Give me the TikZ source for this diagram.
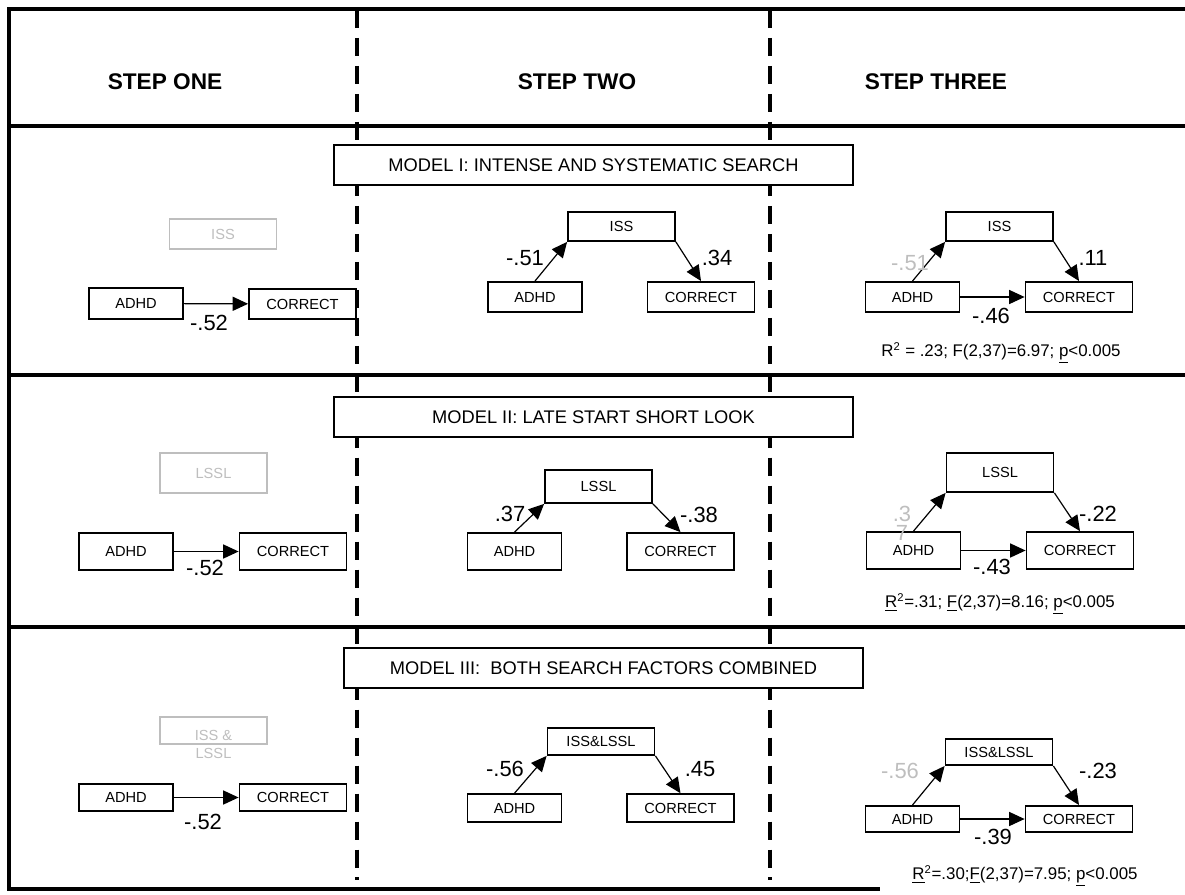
\documentclass[tikz,border=0pt]{standalone}
\usepackage{fontspec}
\setmainfont{Liberation Sans}
\usetikzlibrary{arrows.meta}
\definecolor{lightgrey}{RGB}{190,190,190}

\tikzset{
  stepbox/.style={draw, line width=1.1pt, fill=white, inner sep=0pt, font=\fontsize{10.4}{12}\selectfont},
  adhdbox/.style={stepbox, minimum width=2.35cm},
  varbox/.style={stepbox, minimum width=2.68cm},
  greybox/.style={varbox, draw=lightgrey, text=lightgrey},
  modelbox/.style={draw, line width=1.1pt, fill=white, minimum width=12.98cm, minimum height=1cm, font=\fontsize{13}{15}\selectfont},
  heading/.style={font=\fontsize{16.1}{19}\selectfont\bfseries},
  coef/.style={font=\fontsize{15.6}{18}\selectfont, inner sep=0pt},
  greycoef/.style={coef, text=lightgrey},
  stats/.style={font=\fontsize{12}{14}\selectfont, inner sep=0pt},
  link/.style={-{Triangle[length=11pt,width=10pt]}, line width=0.85pt},
  gridline/.style={line width=2.8pt},
  divider/.style={line width=2.8pt, dash pattern=on 12.8pt off 7.1pt}
}

\begin{document}
\begin{tikzpicture}[x=0.025cm,y=-0.025cm]
  \useasboundingbox (0,0) rectangle (1185,895);

  % table
  \draw[gridline] (1185,9) -| (9,889) -- (880,889);
  \draw[gridline] (9,126) -- (1185,126);
  \draw[gridline] (9,375) -- (1185,375);
  \draw[gridline] (9,627) -- (1185,627);
  \draw[divider] (357,10) -- (357,880);
  \draw[divider] (770,10) -- (770,880);

  \node[heading] (h1) at (165,82) {STEP ONE};
  \node[heading] (h2) at (577,82) {STEP TWO};
  \node[heading] (h3) at (936,82) {STEP THREE};

  % model I
  \node[modelbox] (m1) at (593.5,165) {MODEL I: INTENSE AND SYSTEMATIC SEARCH};

  \node[greybox, minimum height=0.75cm] (med1a) at (223,234) {ISS};
  \node[adhdbox, minimum height=0.78cm] (adhd1a) at (136,303.5) {ADHD};
  \node[varbox, minimum height=0.76cm] (cor1a) at (302.5,304) {CORRECT};
  \draw[link] (adhd1a) -- (cor1a);
  \node[coef] at (209,323) {-.52};

  \node[varbox, minimum height=0.73cm] (med1b) at (621.5,226.5) {ISS};
  \node[adhdbox, minimum height=0.76cm] (adhd1b) at (535,297) {ADHD};
  \node[varbox, minimum height=0.76cm] (cor1b) at (701,297) {CORRECT};
  \draw[link] (adhd1b.north) -- (med1b.south west);
  \draw[link] (med1b.south east) -- (cor1b.north);
  \node[coef] at (525,258) {-.51};
  \node[coef] at (717,258) {.34};

  \node[varbox, minimum height=0.73cm] (med1c) at (999.5,226.5) {ISS};
  \node[adhdbox, minimum height=0.76cm] (adhd1c) at (912.5,297) {ADHD};
  \node[varbox, minimum height=0.76cm] (cor1c) at (1079,297) {CORRECT};
  \draw[link] (adhd1c.north) -- (med1c.south west);
  \draw[link] (med1c.south east) -- (cor1c.north);
  \draw[link] (adhd1c) -- (cor1c);
  \node[greycoef] at (910,263) {-.51};
  \node[coef] at (1093,258) {.11};
  \node[coef] at (991,316) {-.46};
  \node[stats] at (1001,353) {R\textsuperscript{2} = .23; F(2,37)=6.97; \underline{p}<0.005};

  % model II
  \node[modelbox] (m2) at (593.5,417) {MODEL II: LATE START SHORT LOOK};

  \node[greybox, minimum height=1cm] (med2a) at (213.5,473) {LSSL};
  \node[adhdbox, minimum height=0.93cm] (adhd2a) at (126,551.5) {ADHD};
  \node[varbox, minimum height=0.93cm] (cor2a) at (293,551.5) {CORRECT};
  \draw[link] (adhd2a) -- (cor2a);
  \node[coef] at (205,568) {-.52};

  \node[varbox, minimum height=0.83cm] (med2b) at (598.5,486.5) {LSSL};
  \node[adhdbox, minimum height=0.93cm] (adhd2b) at (514.5,551.5) {ADHD};
  \node[varbox, minimum height=0.93cm] (cor2b) at (680.5,551.5) {CORRECT};
  \draw[link] (adhd2b.north) -- (med2b.south west);
  \draw[link] (med2b.south east) -- (cor2b.north);
  \node[coef] at (510,514) {.37};
  \node[coef] at (699,515) {-.38};

  \node[varbox, minimum height=0.98cm] (med2c) at (1000,472.5) {LSSL};
  \node[adhdbox, minimum height=0.93cm] (adhd2c) at (913.5,550.5) {ADHD};
  \node[varbox, minimum height=0.93cm] (cor2c) at (1080,550.5) {CORRECT};
  \draw[link] (adhd2c.north) -- (med2c.south west);
  \draw[link] (med2c.south east) -- (cor2c.north);
  \draw[link] (adhd2c) -- (cor2c);
  \node[greycoef, align=center, font=\fontsize{15.6}{13.5}\selectfont] at (902,523) {.3\\7};
  \node[coef] at (1098,514) {-.22};
  \node[coef] at (992,567) {-.43};
  \node[stats] at (1000,604) {\underline{R}\textsuperscript{2}=.31; \underline{F}(2,37)=8.16; \underline{p}<0.005};

  % model III
  \node[modelbox] (m3) at (603.5,668) {MODEL III:\ \ BOTH SEARCH FACTORS COMBINED};

  \node[greybox, minimum height=0.68cm] (med3a) at (213.5,730.5) {};
  \node[text=lightgrey, align=center, inner sep=0pt, font=\fontsize{10.4}{12.8}\selectfont] (med3atxt) at (213.5,744) {ISS \&\\LSSL};
  \node[adhdbox, minimum height=0.68cm] (adhd3a) at (126,797.5) {ADHD};
  \node[varbox, minimum height=0.68cm] (cor3a) at (293,797.5) {CORRECT};
  \draw[link] (adhd3a) -- (cor3a);
  \node[coef] at (203,822) {-.52};

  \node[varbox, minimum height=0.68cm] (med3b) at (601,741.5) {ISS\&LSSL};
  \node[adhdbox, minimum height=0.7cm] (adhd3b) at (514.5,808) {ADHD};
  \node[varbox, minimum height=0.7cm] (cor3b) at (680.5,808) {CORRECT};
  \draw[link] (adhd3b.north) -- (med3b.south west);
  \draw[link] (med3b.south east) -- (cor3b.north);
  \node[coef] at (505,769) {-.56};
  \node[coef] at (700,769) {.45};

  \node[varbox, minimum height=0.66cm] (med3c) at (999,752) {ISS\&LSSL};
  \node[adhdbox, minimum height=0.66cm] (adhd3c) at (912.5,819) {ADHD};
  \node[varbox, minimum height=0.66cm] (cor3c) at (1079,819) {CORRECT};
  \draw[link] (adhd3c.north) -- (med3c.south west);
  \draw[link] (med3c.south east) -- (cor3c.north);
  \draw[link] (adhd3c) -- (cor3c);
  \node[greycoef] at (900,771) {-.56};
  \node[coef] at (1098,771) {-.23};
  \node[coef] at (993,837) {-.39};
  \node[stats] at (1025,876) {\underline{R}\textsuperscript{2}=.30;\underline{F}(2,37)=7.95; \underline{p}<0.005};
\end{tikzpicture}
\end{document}
